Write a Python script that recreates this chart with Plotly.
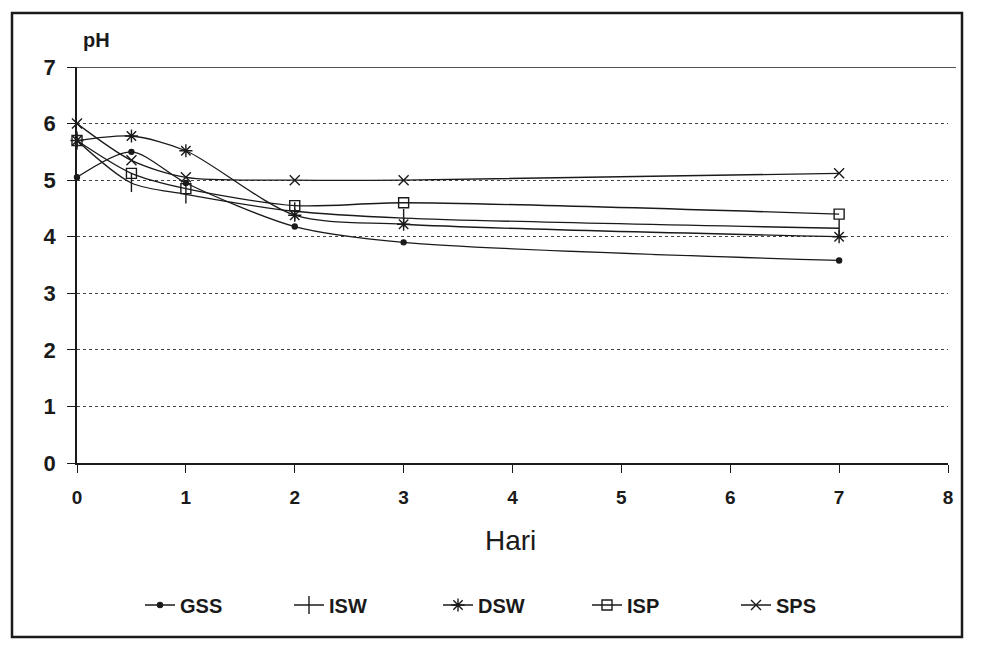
import plotly.graph_objects as go

# Data
hari = [0, 0.5, 1, 2, 3, 7]
series_names = ["GSS", "ISW", "DSW", "ISP", "SPS"]
gss = [5.05, 5.50, 4.95, 4.18, 3.90, 3.58]
isw = [5.70, 4.95, 4.75, 4.45, 4.33, 4.15]
dsw = [5.70, 5.78, 5.52, 4.38, 4.22, 4.00]
isp = [5.70, 5.12, 4.85, 4.55, 4.60, 4.40]
sps = [6.00, 5.35, 5.05, 5.00, 5.00, 5.12]
x_ticks = [0, 1, 2, 3, 4, 5, 6, 7, 8]
y_ticks = [0, 1, 2, 3, 4, 5, 6, 7]

values = [gss, isw, dsw, isp, sps]
symbols = ["circle", "line-ns", "asterisk", "square-open", "x-thin"]
sizes = [5, 13, 11, 10, 10]

ink = "#1a1a1a"
FONT = "Liberation Sans Narrow, Arial Narrow, Liberation Sans, Arial"

W, H = 982, 649
ML, MR, MT, MB = 77, 34, 67, 186
pw, ph_ = W - ML - MR, H - MT - MB
def px(x): return (x - ML) / pw
def py(y): return (H - MB - y) / ph_

fig = go.Figure()
for name, vals, sym, sz in zip(series_names, values, symbols, sizes):
    fig.add_trace(go.Scatter(
        x=hari, y=vals, name=name, mode="lines+markers",
        line=dict(color=ink, width=1.3, shape="spline", smoothing=0.8),
        marker=dict(symbol=sym, size=sz, color=ink,
                    line=dict(color=ink, width=1.4)),
        cliponaxis=False,
    ))

fig.update_layout(
    width=W, height=H,
    paper_bgcolor="white", plot_bgcolor="white",
    margin=dict(l=ML, r=MR, t=MT, b=MB, autoexpand=False),
    font=dict(family=FONT, color=ink),
    showlegend=True,
    legend=dict(orientation="h", x=px(140), y=py(605), xanchor="left", yanchor="middle",
                entrywidth=104, entrywidthmode="pixels",
                font=dict(family=FONT, size=20, weight="bold", color=ink),
                bgcolor="rgba(0,0,0,0)", itemwidth=30, tracegroupgap=0),
    xaxis=dict(range=[0, 8], tickvals=x_ticks, ticktext=[str(v) for v in x_ticks],
               showgrid=False, zeroline=False, showline=True, linecolor=ink, linewidth=1.5,
               ticks="outside", ticklen=8, tickcolor=ink, tickwidth=1,
               ticklabelstandoff=8,
               tickfont=dict(family=FONT, size=19, weight="bold", color=ink)),
    yaxis=dict(range=[0, 7], tickvals=y_ticks, ticktext=[str(v) for v in y_ticks],
               showgrid=True, gridcolor="#444444", griddash="dot", gridwidth=1.2,
               zeroline=False, showline=True, linecolor=ink, linewidth=1.5,
               ticks="outside", ticklen=8, tickcolor=ink, tickwidth=1,
               ticklabelstandoff=7,
               tickfont=dict(family=FONT, size=22, weight="bold", color=ink)),
    annotations=[
        dict(text="pH", x=px(96), y=py(40), xref="paper", yref="paper",
             xanchor="center", yanchor="middle",
             showarrow=False, font=dict(family=FONT, size=20, weight="bold", color=ink)),
        dict(text="Hari", x=px(510), y=py(540), xref="paper", yref="paper",
             xanchor="center", yanchor="middle",
             showarrow=False, font=dict(family=FONT, size=28, color=ink)),
    ],
    shapes=[
        dict(type="line", xref="paper", yref="y", x0=0, x1=px(956), y0=7, y1=7,
             line=dict(color=ink, width=1.5)),
        dict(type="rect", xref="paper", yref="paper",
             x0=px(12), x1=px(962), y0=py(637), y1=py(13),
             line=dict(color=ink, width=2.5), fillcolor="rgba(0,0,0,0)", layer="below"),
    ],
)

fig.write_html("out.html", config={"displayModeBar": False},
               post_script="document.body.style.margin='0';")
